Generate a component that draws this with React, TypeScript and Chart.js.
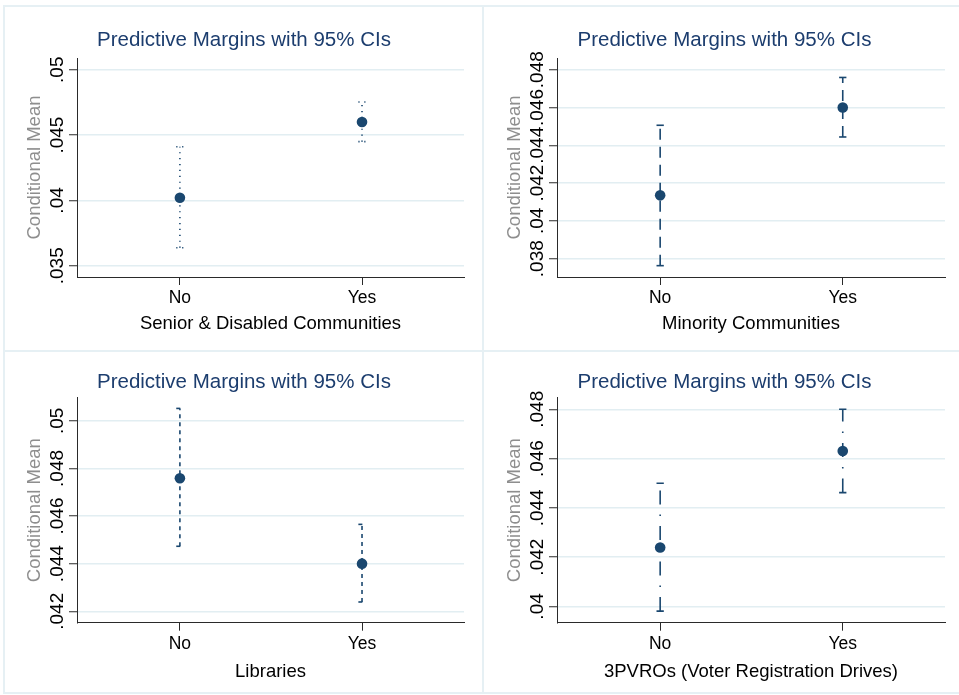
import React, { useEffect, useRef } from "react";
import { Chart, registerables } from "chart.js";

Chart.register(...registerables);
Chart.defaults.font.family = "'Liberation Sans', Arial, sans-serif";

// ---------- data ----------
const categories = ["No", "Yes"];
const chartTitle = "Predictive Margins with 95% CIs";
const yAxisTitle = "Conditional Mean";

const p1Label = "Senior & Disabled Communities";
const p1Est = [0.0402, 0.046];
const p1Lo = [0.03638, 0.0445];
const p1Hi = [0.04411, 0.04753];
const p1Ticks = [0.035, 0.04, 0.045, 0.05];
const p1TickLabels = [".035", ".04", ".045", ".05"];
const p1Range = [0.03414, 0.0509];

const p2Label = "Minority Communities";
const p2Est = [0.04135, 0.046];
const p2Lo = [0.03763, 0.04444];
const p2Hi = [0.04506, 0.04759];
const p2Ticks = [0.038, 0.04, 0.042, 0.044, 0.046, 0.048];
const p2TickLabels = [".038", ".04", ".042", ".044", ".046", ".048"];
const p2Range = [0.03703, 0.04862];

const p3Label = "Libraries";
const p3Est = [0.04759, 0.044];
const p3Lo = [0.04473, 0.04239];
const p3Hi = [0.05052, 0.04565];
const p3Ticks = [0.042, 0.044, 0.046, 0.048, 0.05];
const p3TickLabels = [".042", ".044", ".046", ".048", ".05"];
const p3Range = [0.04152, 0.05097];

const p4Label = "3PVROs (Voter Registration Drives)";
const p4Est = [0.04239, 0.04631];
const p4Lo = [0.03981, 0.04462];
const p4Hi = [0.045, 0.048];
const p4Ticks = [0.04, 0.042, 0.044, 0.046, 0.048];
const p4TickLabels = [".04", ".042", ".044", ".046", ".048"];
const p4Range = [0.03934, 0.04847];

// ---------- styles ----------
const NAVY = "#1a476f";
const TITLE_COLOR = "#1c3d6e";
const AXIS = "#2a2a2a";
const GRID = "#e2eef2";
const FRAME = "#e6f0f4";
const X_RANGE = [-0.565, 1.56];
const CAP = 0.02;

type PanelDef = {
  label: string;
  est: number[];
  lo: number[];
  hi: number[];
  ticks: number[];
  tickLabels: string[];
  range: number[];
  dash: number[];
  cx: number;
  cy: number;
  W: number;
  H: number;
  plotL: number;
  plotR: number;
  plotT: number;
  plotB: number;
  titleY: number;
  xTitleY: number;
  yTitleX: number;
};

const panels: PanelDef[] = [
  {
    label: p1Label, est: p1Est, lo: p1Lo, hi: p1Hi, ticks: p1Ticks, tickLabels: p1TickLabels, range: p1Range,
    dash: [1.2, 4.7],
    cx: 0, cy: 0, W: 483, H: 351, plotL: 77, plotR: 464, plotT: 58, plotB: 277, titleY: 40, xTitleY: 324, yTitleX: 35,
  },
  {
    label: p2Label, est: p2Est, lo: p2Lo, hi: p2Hi, ticks: p2Ticks, tickLabels: p2TickLabels, range: p2Range,
    dash: [11, 7],
    cx: 483, cy: 0, W: 476, H: 351, plotL: 74, plotR: 462, plotT: 58, plotB: 277, titleY: 40, xTitleY: 324, yTitleX: 32,
  },
  {
    label: p3Label, est: p3Est, lo: p3Lo, hi: p3Hi, ticks: p3Ticks, tickLabels: p3TickLabels, range: p3Range,
    dash: [4, 4],
    cx: 0, cy: 351, W: 483, H: 344, plotL: 77, plotR: 464, plotT: 46.7, plotB: 271.7, titleY: 31.5, xTitleY: 321.3, yTitleX: 35,
  },
  {
    label: p4Label, est: p4Est, lo: p4Lo, hi: p4Hi, ticks: p4Ticks, tickLabels: p4TickLabels, range: p4Range,
    dash: [14, 10, 1.5, 10],
    cx: 483, cy: 351, W: 476, H: 344, plotL: 74, plotR: 462, plotT: 46.7, plotB: 271.7, titleY: 31.5, xTitleY: 321.3, yTitleX: 32,
  },
];

function Panel({ p }: { p: PanelDef }) {
  const ref = useRef<HTMLCanvasElement | null>(null);
  useEffect(() => {
    if (!ref.current) return;
    const titleSize = 20.5;
    const titleLH = titleSize * 1.2;
    const axTitleSize = 18.5;
    const axTitleLH = axTitleSize * 1.2;
    const padL = p.yTitleX - axTitleLH / 2;
    const yW = p.plotL - padL;
    const padR = p.W - p.plotR;
    const padT = p.titleY - titleLH / 2;
    const tpadB = p.plotT - padT - titleLH;
    const padB = p.H - p.xTitleY - axTitleLH / 2;
    const xH = p.H - padB - p.plotB;

    const lineDs = (pts: { x: number; y: number }[]) => ({
      data: pts,
      showLine: true,
      borderColor: NAVY,
      borderWidth: 1.6,
      borderDash: p.dash,
      borderCapStyle: "butt",
      pointRadius: 0,
      pointHoverRadius: 0,
      fill: false,
      tension: 0,
    });

    const datasets: any[] = [
      {
        data: p.est.map((y, i) => ({ x: i, y })),
        showLine: false,
        pointRadius: 5.3,
        pointHoverRadius: 5.3,
        pointBackgroundColor: NAVY,
        pointBorderWidth: 0,
        borderColor: NAVY,
      },
    ];
    categories.forEach((_, i) => {
      datasets.push(lineDs([{ x: i, y: p.lo[i] }, { x: i, y: p.hi[i] }]));
      datasets.push(lineDs([{ x: i - CAP, y: p.hi[i] }, { x: i + CAP, y: p.hi[i] }]));
      datasets.push(lineDs([{ x: i - CAP, y: p.lo[i] }, { x: i + CAP, y: p.lo[i] }]));
    });

    const chart = new Chart(ref.current, {
      type: "scatter",
      data: { datasets },
      options: {
        animation: false,
        responsive: false,
        maintainAspectRatio: false,
        events: [],
        layout: { padding: { left: padL, right: padR, top: padT, bottom: padB } },
        plugins: {
          legend: { display: false },
          tooltip: { enabled: false },
          title: {
            display: true,
            text: chartTitle,
            color: TITLE_COLOR,
            font: { size: titleSize, weight: "normal", lineHeight: 1.2 },
            padding: { top: 0, bottom: tpadB },
          },
        },
        scales: {
          x: {
            type: "linear",
            bounds: "data",
            min: X_RANGE[0],
            max: X_RANGE[1],
            afterBuildTicks: (s: any) => {
              s.ticks = categories.map((_, i) => ({ value: i }));
            },
            afterFit: (s: any) => {
              s.height = xH;
            },
            ticks: {
              callback: (_v: any, i: number) => categories[i],
              autoSkip: false,
              maxRotation: 0,
              minRotation: 0,
              padding: 3,
              color: "#000",
              font: { size: 17.5 },
            },
            grid: {
              drawOnChartArea: false,
              drawTicks: true,
              tickLength: 8,
              tickColor: AXIS,
              tickWidth: 1,
              color: AXIS,
            },
            border: { display: true, color: AXIS, width: 1 },
            title: {
              display: true,
              text: p.label,
              color: "#000",
              font: { size: axTitleSize, lineHeight: 1.2 },
              padding: 0,
            },
          },
          y: {
            type: "linear",
            bounds: "data",
            min: p.range[0],
            max: p.range[1],
            afterBuildTicks: (s: any) => {
              s.ticks = p.ticks.map((v) => ({ value: v }));
            },
            afterFit: (s: any) => {
              s.width = yW;
            },
            ticks: {
              callback: (_v: any, i: number) => p.tickLabels[i],
              autoSkip: false,
              minRotation: 90,
              maxRotation: 90,
              crossAlign: "center",
              padding: -7,
              color: "#000",
              font: { size: 19 },
            },
            grid: {
              color: GRID,
              lineWidth: 1.5,
              drawTicks: true,
              tickLength: 8,
              tickColor: AXIS,
              tickWidth: 1,
            },
            border: { display: true, color: AXIS, width: 1 },
            title: {
              display: true,
              text: yAxisTitle,
              color: "#8e8e8e",
              font: { size: axTitleSize, lineHeight: 1.2 },
              padding: 0,
            },
          },
        },
      } as any,
    });
    return () => chart.destroy();
  }, [p]);
  return (
    <canvas
      ref={ref}
      width={p.W}
      height={p.H}
      style={{ position: "absolute", left: p.cx, top: p.cy, width: p.W, height: p.H }}
    />
  );
}

export default function App() {
  const line = (left: number, top: number, width: number, height: number) => (
    <div style={{ position: "absolute", left, top, width, height, background: FRAME }} />
  );
  return (
    <div
      style={{
        position: "fixed",
        left: 0,
        top: 0,
        width: 959,
        height: 695,
        background: "#fff",
        overflow: "hidden",
      }}
    >
      {line(3, 5, 956, 2)}
      {line(3, 5, 2, 689)}
      {line(482, 5, 2, 689)}
      {line(3, 350, 956, 2)}
      {line(3, 692, 956, 2)}
      {panels.map((p, i) => (
        <Panel key={i} p={p} />
      ))}
    </div>
  );
}
